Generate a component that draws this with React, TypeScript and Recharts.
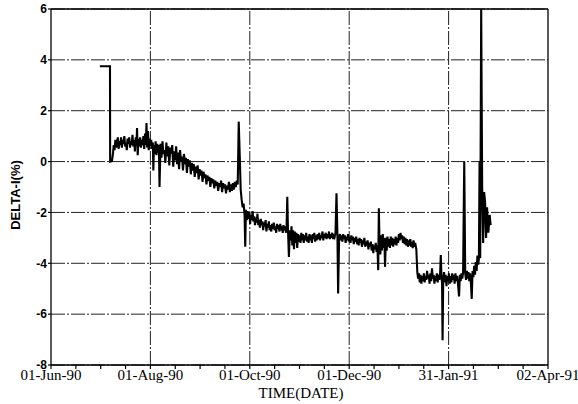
import { LineChart, Line, XAxis, YAxis, CartesianGrid, ReferenceLine, Label } from 'recharts';

// [days since 01-Jun-90, DELTA-I %]
const julyReadings: [number, number][] = [
  [30.0, 3.75], [36.2, 3.75], [36.3, 0.0], [37.4, 0.02], [38.0, 0.3], [38.5, 0.65], [39.0, 0.45],
  [39.5, 0.85], [40.0, 0.55], [40.5, 0.75], [41.0, 0.95], [41.5, 0.5], [42.0, 0.8], [42.5, 0.65],
  [43.0, 0.95], [43.5, 0.55], [44.0, 0.85], [44.5, 0.7], [45.0, 1.0], [45.5, 0.6], [46.0, 0.75],
  [46.5, 0.45], [47.0, 0.9], [47.5, 0.7], [48.0, 0.95], [48.5, 0.55], [49.0, 0.8], [49.5, 0.65],
  [50.0, 1.05], [50.5, 0.6], [51.0, 0.85], [51.5, 0.4], [52.0, 0.95], [52.5, 0.7], [52.8, 1.32],
  [53.2, 0.25], [53.7, 0.9], [54.2, 0.6], [54.7, 0.95], [55.2, 0.55], [55.7, 0.85], [56.2, 0.65],
  [56.7, 1.0], [57.2, 0.5], [57.7, 1.1], [58.2, 0.65], [58.6, 1.52], [59.0, 0.55], [59.5, 1.2],
  [60.0, 0.45], [60.5, 0.9], [61.0, 0.6], [61.5, 0.85], [62.0, 0.5], [62.5, 0.75], [62.8, -0.35],
  [63.2, 0.65], [63.7, 0.3], [64.2, 0.8], [64.7, 0.25], [65.2, 0.7], [65.7, 0.35], [66.2, 0.65],
];

const augSepReadings: [number, number][] = [
  [66.6, -1.0], [67.2, 0.7], [67.8, 0.15], [68.4, 0.8], [69.0, 0.3], [69.6, 0.45], [70.2, -0.05],
  [70.8, 0.75], [71.4, 0.2], [72.0, 0.6], [72.6, -0.15], [73.2, 0.55], [73.8, 0.3], [74.4, 0.65],
  [75.0, -0.2], [75.6, 0.4], [76.2, 0.05], [76.8, 0.6], [77.4, -0.1], [78.0, 0.35], [78.6, -0.3],
  [79.2, 0.45], [79.8, 0.0], [80.4, 0.2], [81.0, -0.35], [81.6, 0.3], [82.2, -0.1], [82.8, 0.15],
  [83.4, -0.45], [84.0, 0.1], [84.6, -0.2], [85.2, 0.05], [85.8, -0.5], [86.4, -0.05], [87.0, -0.35],
  [87.6, -0.1], [88.2, -0.6], [88.8, -0.2], [89.4, -0.45], [90.0, -0.15], [90.6, -0.7], [91.2, -0.3],
  [91.8, -0.55], [92.4, -0.35], [93.0, -0.8], [93.6, -0.4], [94.2, -0.65], [94.8, -0.5], [95.4, -0.9],
  [96.0, -0.55], [96.6, -0.75], [97.2, -0.6], [97.8, -1.0], [98.4, -0.65], [99.0, -0.85], [99.6, -0.7],
  [100.2, -1.05], [100.8, -0.75], [101.4, -0.95], [102.0, -0.8], [102.6, -1.15], [103.2, -0.85],
  [103.8, -1.0], [104.4, -0.75], [105.0, -1.2], [105.6, -0.85], [106.2, -1.05], [106.8, -0.9],
  [107.4, -1.25], [108.0, -0.95], [108.6, -1.1], [109.2, -0.8], [109.8, -1.2], [110.4, -0.9],
  [111.0, -1.15], [111.6, -0.85], [112.2, -1.1], [112.8, -0.8], [113.4, -1.0], [114.0, -0.75], [114.6, -0.9],
];

const octNovReadings: [number, number][] = [
  [115.2, 1.57], [115.8, 0.3], [116.4, -1.1], [117.0, -1.5], [117.6, -1.8], [118.2, -1.65], [118.8, -2.1],
  [119.2, -3.35], [119.6, -1.9], [120.2, -2.3], [120.7, -1.95], [121.2, -2.25], [121.7, -2.0], [122.2, -2.45],
  [122.7, -2.1], [123.2, -2.3], [123.7, -1.95], [124.2, -2.35], [124.7, -2.15], [125.2, -2.5], [125.7, -2.2],
  [126.2, -2.4], [126.7, -2.05], [127.2, -2.5], [127.7, -2.3], [128.2, -2.6], [128.7, -2.25], [129.2, -2.5],
  [129.7, -2.35], [130.2, -2.7], [130.7, -2.4], [131.2, -2.55], [131.7, -2.3], [132.2, -2.75], [132.7, -2.45],
  [133.2, -2.6], [133.7, -2.35], [134.2, -2.7], [134.7, -2.5], [135.2, -2.75], [135.7, -2.45], [136.2, -2.65],
  [136.7, -2.4], [137.2, -2.7], [137.7, -2.55], [138.2, -2.8], [138.7, -2.45], [139.2, -2.65], [139.7, -2.5],
  [140.2, -2.75], [140.7, -2.45], [141.2, -2.7], [141.7, -2.55], [142.2, -2.8], [142.7, -2.5], [143.2, -2.7],
  [143.7, -2.55], [144.2, -2.8], [144.6, -2.5], [145.0, -1.38], [145.4, -2.6], [146.0, -3.75], [146.6, -2.7],
  [147.1, -3.1], [147.6, -2.55], [148.1, -3.3], [148.6, -2.7], [149.1, -3.45], [149.6, -2.75], [150.1, -3.2],
  [150.6, -2.8], [151.1, -3.4], [151.6, -2.85], [152.1, -3.15], [152.6, -2.9], [153.1, -3.2], [153.6, -2.8],
  [154.1, -3.1], [154.6, -2.85], [155.1, -3.2], [155.6, -2.9], [156.1, -3.1], [156.6, -2.8], [157.1, -3.15],
  [157.6, -2.95], [158.1, -3.2], [158.6, -2.85], [159.1, -3.1], [159.6, -2.9], [160.1, -3.2], [160.6, -2.85],
  [161.1, -3.05], [161.6, -2.8], [162.1, -3.15], [162.6, -2.9], [163.1, -3.1], [163.6, -2.85], [164.1, -3.05],
  [164.6, -2.8], [165.1, -3.1], [165.6, -2.9], [166.1, -3.0], [166.6, -2.75], [167.1, -3.1], [167.6, -2.85],
  [168.1, -3.0], [168.6, -2.8], [169.1, -3.05], [169.6, -2.85], [170.1, -3.0], [170.6, -2.75], [171.1, -3.05],
  [171.6, -2.85], [172.1, -3.0], [172.6, -2.8], [173.1, -3.05], [173.6, -2.85], [174.1, -2.95], [174.6, -2.8],
  [175.2, -1.25], [175.8, -3.0], [176.2, -5.19], [176.8, -3.0],
];

const decJanReadings: [number, number][] = [
  [177.3, -2.85], [177.8, -3.1], [178.3, -2.9], [178.8, -3.15], [179.3, -2.85], [179.8, -3.05], [180.3, -2.9],
  [180.8, -3.2], [181.3, -2.95], [181.8, -3.1], [182.3, -2.85], [182.8, -3.15], [183.3, -2.95], [183.8, -3.2],
  [184.3, -2.9], [184.8, -3.1], [185.3, -2.95], [185.8, -3.25], [186.3, -3.0], [186.8, -3.15], [187.3, -2.95],
  [187.8, -3.25], [188.3, -3.05], [188.8, -3.3], [189.3, -3.0], [189.8, -3.2], [190.3, -3.05], [190.8, -3.35],
  [191.3, -3.1], [191.8, -3.25], [192.3, -3.0], [192.8, -3.35], [193.3, -3.15], [193.8, -3.3], [194.3, -3.1],
  [194.8, -3.45], [195.3, -3.2], [195.8, -3.35], [196.3, -3.15], [196.8, -3.5], [197.3, -3.25], [197.8, -3.6],
  [198.3, -3.3], [198.8, -3.45], [199.3, -3.2], [199.8, -3.55], [200.3, -3.3], [200.8, -4.27], [201.2, -1.84],
  [201.6, -3.2], [202.1, -3.65], [202.6, -2.9], [203.1, -3.5], [203.6, -2.85], [204.1, -3.4], [204.6, -3.0],
  [205.0, -4.14], [205.5, -3.0], [206.0, -3.5], [206.5, -2.95], [207.0, -3.35], [207.5, -3.05], [208.0, -3.4],
  [208.5, -2.95], [209.0, -3.3], [209.5, -3.0], [210.0, -3.35], [210.5, -3.05], [211.0, -3.25], [211.5, -2.95],
  [212.0, -3.3], [212.5, -3.0], [213.0, -3.2], [213.5, -2.85], [214.0, -3.1], [214.5, -2.8], [215.0, -3.05],
  [215.5, -2.9], [216.0, -3.2], [216.5, -2.95], [217.0, -3.25], [217.5, -3.0], [218.0, -3.3], [218.5, -3.05],
  [219.0, -3.35], [219.5, -3.1], [220.0, -3.3], [220.5, -3.05], [221.0, -3.35], [221.5, -3.15], [222.0, -3.4],
  [222.5, -3.1], [223.0, -3.35], [223.5, -3.2], [224.2, -3.45],
];

const janMarReadings: [number, number][] = [
  [224.8, -4.35], [225.3, -4.6], [225.8, -4.4], [226.3, -4.75], [226.8, -4.45], [227.3, -4.8], [227.8, -4.5],
  [228.3, -4.7], [228.8, -4.4], [229.3, -4.75], [229.8, -4.5], [230.3, -4.65], [230.8, -4.3], [231.3, -4.6],
  [231.8, -4.45], [232.3, -4.8], [232.8, -4.4], [233.3, -4.7], [233.8, -4.2], [234.3, -4.6], [234.8, -4.45],
  [235.3, -4.8], [235.8, -4.5], [236.3, -4.7], [236.8, -4.4], [237.3, -4.75], [237.8, -4.45], [238.3, -4.65],
  [238.8, -4.4], [239.2, -3.68], [239.6, -4.5], [240.0, -4.8], [240.3, -7.03], [240.7, -4.6], [241.2, -4.35],
  [241.7, -4.75], [242.2, -4.45], [242.7, -4.9], [243.2, -4.5], [243.7, -4.7], [244.2, -4.4], [244.7, -4.8],
  [245.2, -4.5], [245.7, -4.75], [246.2, -4.4], [246.7, -4.65], [247.2, -4.45], [247.7, -4.8], [248.2, -4.4],
  [248.7, -4.7], [249.2, -4.5], [249.7, -4.75], [250.4, -5.3], [250.9, -4.45], [251.4, -4.7], [251.9, -4.4],
  [252.4, -4.6], [252.9, -4.35], [253.6, 0.0], [254.2, -4.4], [254.7, -4.65], [255.2, -4.3], [255.7, -4.6],
  [256.2, -4.35], [256.7, -4.7], [257.2, -4.4], [257.7, -4.8], [258.2, -5.4], [258.7, -4.3], [259.2, -4.55],
  [259.7, -4.1], [260.2, -4.45], [260.7, -3.95], [261.2, -4.3], [261.7, -3.7], [262.2, -4.05], [262.6, -3.8],
  [263.0, 0.0], [263.4, -3.8], [264.0, 6.0], [264.6, -1.0], [265.2, -3.2], [265.8, -1.2], [266.4, -1.6],
  [267.0, -3.0], [267.6, -1.8], [268.4, -2.8], [269.2, -2.1], [269.8, -2.5],
];

const majorTickDays = [0, 61, 122, 183, 244, 305];
const majorTickLabels = ['01-Jun-90', '01-Aug-90', '01-Oct-90', '01-Dec-90', '31-Jan-91', '02-Apr-91'];
const yTicks = [-8, -6, -4, -2, 0, 2, 4, 6];

const data = [...julyReadings, ...augSepReadings, ...octNovReadings, ...decJanReadings, ...janMarReadings].map(
  ([day, delta]) => ({ day, delta })
);

// four minor ticks per major interval
const xTicks: number[] = [];
for (let i = 0; i < majorTickDays.length - 1; i++) {
  const step = (majorTickDays[i + 1] - majorTickDays[i]) / 4;
  for (let k = 0; k < 4; k++) xTicks.push(majorTickDays[i] + k * step);
}
xTicks.push(majorTickDays[majorTickDays.length - 1]);

const gridDash = '14 2 2 2';
const serif = "'Liberation Serif', 'DejaVu Serif', Times, serif";
const sans = "'Liberation Sans', Arial, sans-serif";

const DateTick = ({ x, y, payload }: any) => {
  const idx = majorTickDays.indexOf(payload.value);
  return (
    <g>
      <line x1={x} x2={x} y1={y} y2={y + 4} stroke="#000" strokeWidth={1.2} />
      {idx >= 0 && (
        <text x={x} y={y + 15} textAnchor="middle" fontFamily={serif} fontSize={15} fill="#000">
          {majorTickLabels[idx]}
        </text>
      )}
    </g>
  );
};

export default function App() {
  return (
    <div style={{ position: 'absolute', left: 0, top: 0, background: '#fff', fontFamily: serif }}>
      <LineChart width={578} height={404} data={data} margin={{ top: 9, right: 30, bottom: 9, left: 11 }}>
        <CartesianGrid vertical={false} stroke="#222" strokeDasharray={gridDash} />
        <ReferenceLine y={6} stroke="#000" strokeWidth={1.3} />
        <ReferenceLine x={305} stroke="#000" strokeWidth={1.3} />
        {majorTickDays.slice(1, -1).map((d) => (
          <ReferenceLine key={d} x={d} stroke="#222" strokeDasharray={gridDash} />
        ))}
        <XAxis
          type="number"
          dataKey="day"
          domain={[0, 305]}
          ticks={xTicks}
          interval={0}
          height={30}
          tickSize={0}
          tickMargin={0}
          tickLine={false}
          axisLine={{ stroke: '#000', strokeWidth: 1.3 }}
          tick={<DateTick />}
        >
          <Label
            content={() => (
              <text x={301} y={398} textAnchor="middle" fontFamily={serif} fontSize={15} fill="#000">
                TIME(DATE)
              </text>
            )}
          />
        </XAxis>
        <YAxis
          type="number"
          domain={[-8, 6]}
          ticks={yTicks}
          interval={0}
          width={40}
          tickSize={3}
          tickMargin={1}
          axisLine={{ stroke: '#000', strokeWidth: 1.3 }}
          tickLine={{ stroke: '#000', strokeWidth: 1.2 }}
          tick={{ fill: '#000', fontSize: 12, fontWeight: 'bold', fontFamily: sans }}
        >
          <Label
            content={() => (
              <text
                transform="translate(20,195) rotate(-90)"
                textAnchor="middle"
                fontFamily={sans}
                fontWeight="bold"
                fontSize={13}
                fill="#000"
              >
                DELTA-I(%)
              </text>
            )}
          />
        </YAxis>
        <Line
          type="linear"
          dataKey="delta"
          stroke="#000"
          strokeWidth={2.1}
          dot={false}
          isAnimationActive={false}
        />
      </LineChart>
    </div>
  );
}
